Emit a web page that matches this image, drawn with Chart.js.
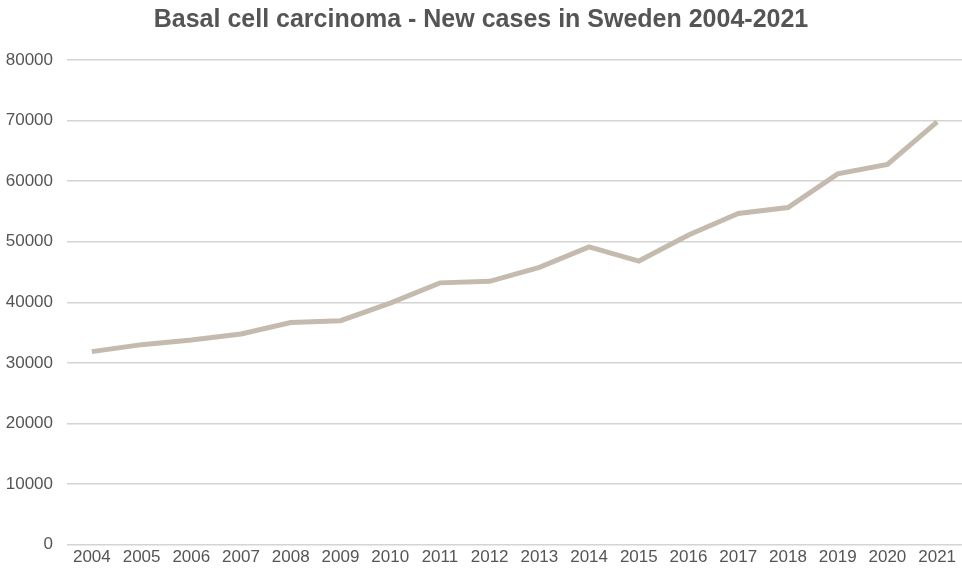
<!DOCTYPE html>
<html>
<head>
<meta charset="utf-8">
<script src="https://cdn.jsdelivr.net/npm/chart.js@4"></script>
<style>
html,body{margin:0;padding:0;background:#fff;}
#wrap{width:962px;height:570px;position:relative;}
</style>
</head>
<body>
<div id="wrap"><canvas id="c"></canvas></div>
<script>
const years = ["2004","2005","2006","2007","2008","2009","2010","2011","2012","2013","2014","2015","2016","2017","2018","2019","2020","2021"];
const newCases = [31850,33000,33750,34750,36650,36950,39850,43200,43450,45750,49150,46800,51100,54650,55650,61200,62750,69800];
const yTicks = [0,10000,20000,30000,40000,50000,60000,70000,80000];

new Chart(document.getElementById('c'), {
  type: 'line',
  data: {
    labels: years,
    datasets: [{
      label: 'New cases',
      data: newCases,
      borderColor: '#c4bbae',
      borderWidth: 5,
      pointRadius: 0,
      tension: 0,
      fill: false
    }]
  },
  options: {
    responsive: true,
    maintainAspectRatio: false,
    animation: false,
    layout: { padding: { left: 0, right: 0, top: 0, bottom: 0 } },
    plugins: {
      legend: { display: false },
      tooltip: { enabled: false },
      title: {
        display: true,
        text: 'Basal cell carcinoma - New cases in Sweden 2004-2021',
        color: '#555555',
        font: { family: 'Liberation Sans, Arial, sans-serif', size: 25, weight: 'bold', lineHeight: 1.2 },
        padding: { top: 5, bottom: 25 }
      }
    },
    scales: {
      x: {
        offset: true,
        grid: { display: false, drawTicks: false },
        border: { display: false },
        afterFit: (axis) => { axis.height = 25.5; },
        ticks: { color: '#555555', font: { family: 'Liberation Sans, Arial, sans-serif', size: 17 }, maxRotation: 0, padding: 3 }
      },
      y: {
        min: 0, max: 80000,
        afterBuildTicks: (axis) => { axis.ticks = yTicks.map(v => ({ value: v })); },
        afterFit: (axis) => { axis.width = 67; },
        grid: { color: '#d4d4d4', lineWidth: 1.5, drawTicks: false },
        border: { display: false },
        ticks: { color: '#555555', font: { family: 'Liberation Sans, Arial, sans-serif', size: 17 }, padding: 14,
                 callback: (v) => String(v) }
      }
    }
  }
});
</script>
</body>
</html>
